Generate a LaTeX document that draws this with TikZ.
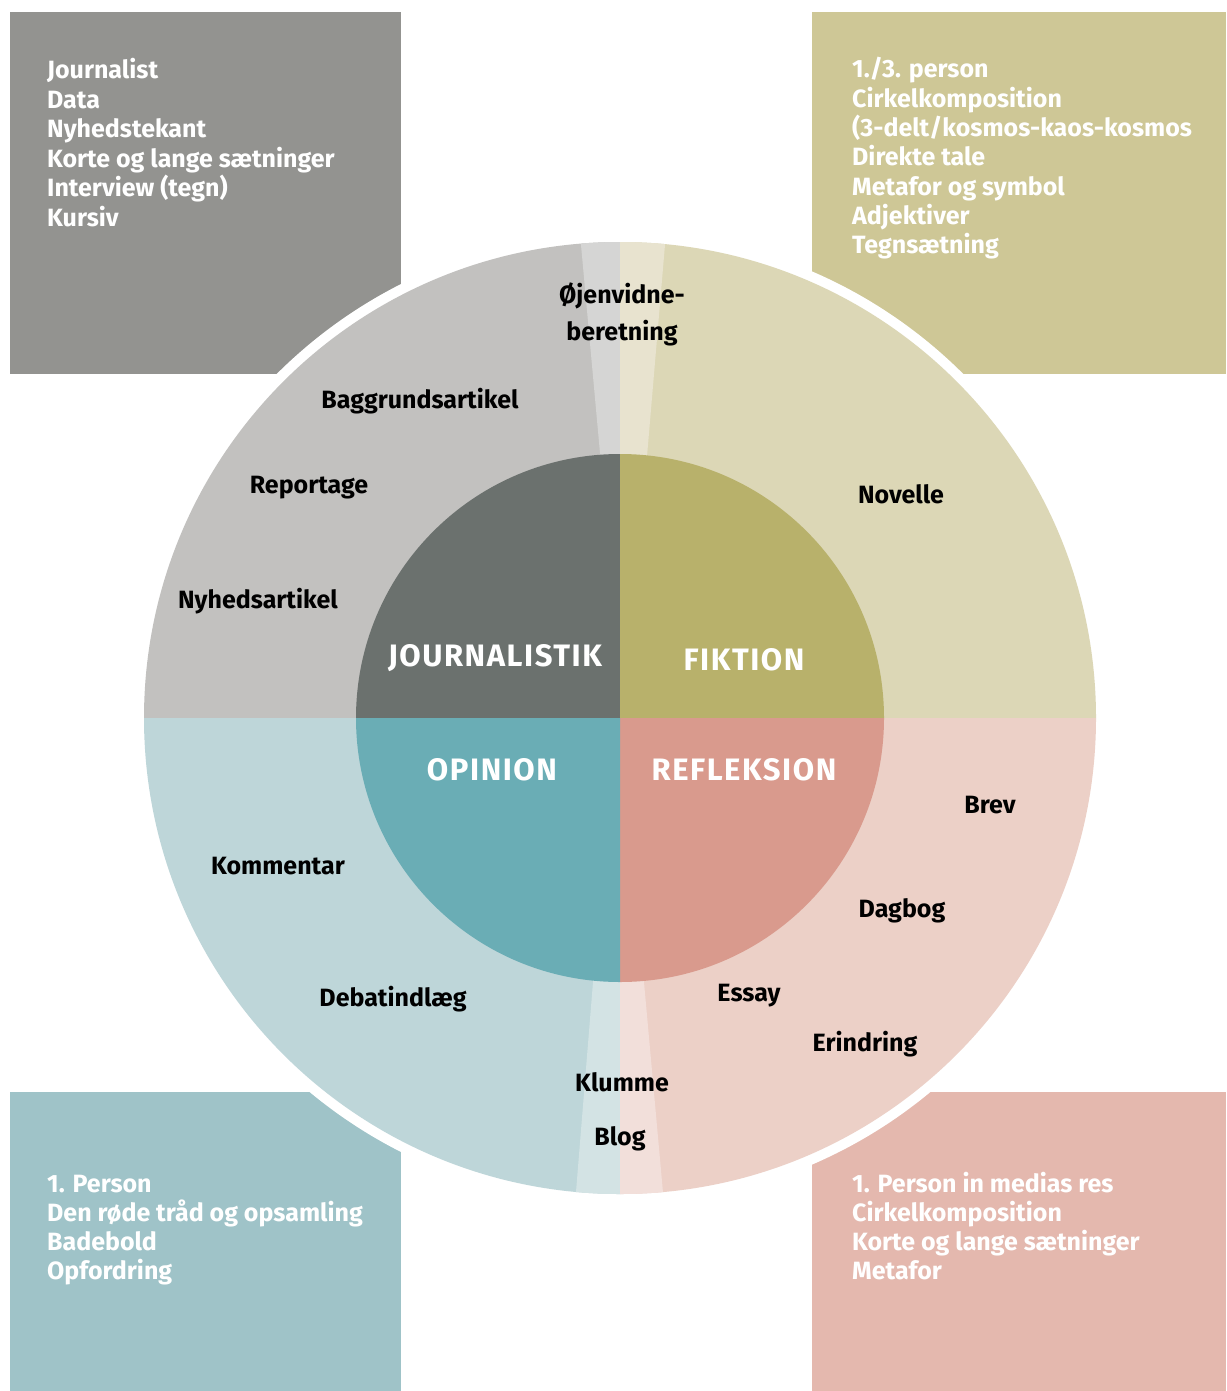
\documentclass[tikz,border=0pt]{standalone}
\usepackage{fontspec}
\setmainfont{Fira Sans}
\newfontfamily\headfont[LetterSpace=5]{Fira Sans}
\definecolor{boxJ}{HTML}{939390}
\definecolor{boxF}{HTML}{CEC796}
\definecolor{boxO}{HTML}{9FC3C8}
\definecolor{boxR}{HTML}{E4B8AE}
\definecolor{outJ}{HTML}{C2C1BF}
\definecolor{outF}{HTML}{DCD7B6}
\definecolor{outO}{HTML}{BED6D9}
\definecolor{outR}{HTML}{ECD0C7}
\definecolor{bandJ}{HTML}{D5D5D4}
\definecolor{bandF}{HTML}{E8E3CF}
\definecolor{bandO}{HTML}{D3E3E4}
\definecolor{bandR}{HTML}{F2DFDA}
\definecolor{inJ}{HTML}{6B716E}
\definecolor{inF}{HTML}{B8B16B}
\definecolor{inO}{HTML}{6AADB5}
\definecolor{inR}{HTML}{D99A8D}
\begin{document}
\begin{tikzpicture}[x=1pt,y=-1pt,
  boxtext/.style={anchor=base west,inner sep=0pt,text=white,font=\fontsize{25}{29}\selectfont\bfseries},
  lbl/.style={inner sep=0pt,text=black,font=\fontsize{25}{37}\selectfont\bfseries,align=center},
  head/.style={inner sep=0pt,text=white,font=\fontsize{31}{37}\selectfont\headfont\bfseries}]
\useasboundingbox (0,0) rectangle (1226,1391);
% corner boxes
\fill[boxJ] (10,12) rectangle (401,374);
\fill[boxF] (812,12) rectangle (1226,374);
\fill[boxO] (10,1092) rectangle (401,1391);
\fill[boxR] (812,1092) rectangle (1226,1391);
% white ring
\fill[white] (620,718) circle[radius=486];
% outer quadrants
\fill[outJ] (620,718) -- (144,718) arc[start angle=180,end angle=270,radius=476] -- cycle;
\fill[outF] (620,718) -- (620,242) arc[start angle=270,end angle=360,radius=476] -- cycle;
\fill[outR] (620,718) -- (1096,718) arc[start angle=0,end angle=90,radius=476] -- cycle;
\fill[outO] (620,718) -- (620,1194) arc[start angle=90,end angle=180,radius=476] -- cycle;
% light bands
\begin{scope}
\clip (620,718) circle[radius=476];
\fill[bandJ] (620,200) -- (576.9,200) -- (620,672) -- cycle;
\fill[bandF] (620,200) -- (668.8,200) -- (620,774) -- cycle;
\fill[bandO] (620,1240) -- (572.1,1240) -- (620,649) -- cycle;
\fill[bandR] (620,1240) -- (667.3,1240) -- (620,717) -- cycle;
\end{scope}
% inner quadrants
\fill[inJ] (620,718) -- (356,718) arc[start angle=180,end angle=270,radius=264] -- cycle;
\fill[inF] (620,718) -- (620,454) arc[start angle=270,end angle=360,radius=264] -- cycle;
\fill[inR] (620,718) -- (884,718) arc[start angle=0,end angle=90,radius=264] -- cycle;
\fill[inO] (620,718) -- (620,982) arc[start angle=90,end angle=180,radius=264] -- cycle;
% headings
\node[head] (hJ) at (495,658) {JOURNALISTIK};
\node[head] (hF) at (744,660) {FIKTION};
\node[head] (hO) at (492,770) {OPINION};
\node[head] (hR) at (744,770) {REFLEKSION};
% genre labels
\node[lbl] (oj) at (622,314) {Øjenvidne-\\beretning};
\node[lbl] (bag) at (420,401) {Baggrundsartikel};
\node[lbl] (rep) at (309,488) {Reportage};
\node[lbl] (nyh) at (258,601) {Nyhedsartikel};
\node[lbl] (nov) at (901,494) {Novelle};
\node[lbl] (brev) at (990,805) {Brev};
\node[lbl] (kom) at (278,866) {Kommentar};
\node[lbl] (dag) at (902,911) {Dagbog};
\node[lbl] (ess) at (749,996) {Essay};
\node[lbl] (deb) at (393,999) {Debatindlæg};
\node[lbl] (eri) at (865,1044) {Erindring};
\node[lbl] (klu) at (622,1082) {Klumme};
\node[lbl] (blog) at (620,1139) {Blog};
% box texts
\node[boxtext] (tl0) at (47,79) {Journalist};
\node[boxtext] (tl1) at (47,108.4) {Data};
\node[boxtext] (tl2) at (47,137.8) {Nyhedstekant};
\node[boxtext] (tl3) at (47,167.2) {Korte og lange sætninger};
\node[boxtext] (tl4) at (47,196.6) {Interview (tegn)};
\node[boxtext] (tl5) at (47,226) {Kursiv};
\node[boxtext] (tr0) at (852,78) {1./3. person};
\node[boxtext] (tr1) at (852,107.3) {Cirkelkomposition};
\node[boxtext] (tr2) at (852,136.6) {(3-delt/kosmos-kaos-kosmos};
\node[boxtext] (tr3) at (852,165.9) {Direkte tale};
\node[boxtext] (tr4) at (852,195.2) {Metafor og symbol};
\node[boxtext] (tr5) at (852,224.5) {Adjektiver};
\node[boxtext] (tr6) at (852,253.8) {Tegnsætning};
\node[boxtext] (bl0) at (47,1192) {1. Person};
\node[boxtext] (bl1) at (47,1221) {Den røde tråd og opsamling};
\node[boxtext] (bl2) at (47,1250) {Badebold};
\node[boxtext] (bl3) at (47,1279) {Opfordring};
\node[boxtext] (br0) at (852,1192) {1. Person in medias res};
\node[boxtext] (br1) at (852,1221) {Cirkelkomposition};
\node[boxtext] (br2) at (852,1250) {Korte og lange sætninger};
\node[boxtext] (br3) at (852,1279) {Metafor};
\end{tikzpicture}
\end{document}
